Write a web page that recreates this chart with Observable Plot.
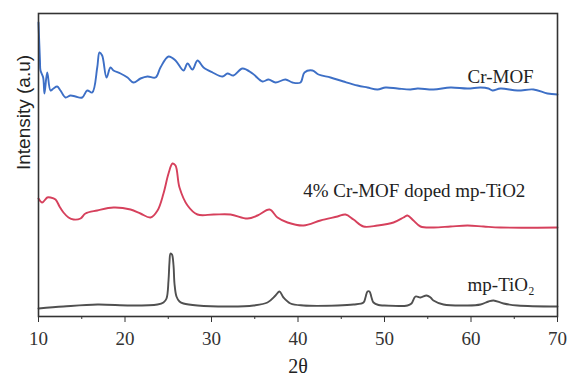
<!DOCTYPE html>
<html>
<head>
<meta charset="utf-8">
<script src="https://cdn.jsdelivr.net/npm/d3@7"></script>
<script src="https://cdn.jsdelivr.net/npm/@observablehq/plot@0.6"></script>
<style>
  html, body { margin: 0; padding: 0; background: #fff; }
  #chart { width: 568px; height: 385px; }
</style>
</head>
<body>
<div id="chart"></div>
<script>
// 2θ positions and intensities (a.u., offset stacked)
const crMofTheta = [10.00,10.17,10.23,10.54,10.69,11.01,11.39,11.73,12.16,12.54,13.12,13.70,14.28,15.05,15.63,16.21,16.79,17.05,17.36,17.86,18.32,18.67,19.48,20.29,20.98,21.79,22.60,23.53,24.10,25.03,25.84,26.76,27.23,27.80,28.38,29.08,30.12,31.27,31.85,32.54,33.58,34.74,35.90,36.59,37.40,38.55,39.36,40.29,40.75,41.68,42.37,43.76,45.26,46.88,48.03,49.19,50.12,51.50,53.01,53.82,55.66,57.63,59.60,61.10,62.02,62.49,63.41,65.38,67.23,68.84,70.00];
const crMofI     = [294,256,246,239,223,244,226,228,230,226,219,221,220,219,226,224,249,264,261,239,249,246,243,239,234,238,240,239,249,260,256,246,253,247,256,249,244,240,243,241,248,243,235,237,234,237,234,234,244,246,242,239,235,231,229,227,229,228,227,228,227,229,228,229,228,226,228,226,227,223,222];

const dopedTheta = [10.00,10.43,11.01,11.39,11.97,12.43,12.89,13.47,14.05,14.86,15.43,16.79,18.67,20.64,21.79,22.95,23.76,24.45,25.03,25.49,25.84,26.30,27.23,28.38,30.23,32.20,34.16,35.32,36.71,37.63,38.79,40.64,42.60,44.57,45.49,46.42,47.57,49.19,51.04,52.20,52.66,53.35,54.16,55.66,57.63,59.60,61.45,63.41,70.00];
const dopedI     = [118,114,119,119,117,110,104,99,97,98,103,106,109,107,103,99,106,123,143,153,151,129,111,102,102,102,98,101,107,99,94,91,96,100,102,97,90,91,94,99,101,96,90,89,90,91,90,89,89];

const tio2Theta = [10.00,12.89,16.82,20.64,23.76,24.45,24.80,25.03,25.14,25.26,25.43,25.61,25.72,25.95,26.30,26.76,28.38,32.20,34.86,36.47,37.40,37.86,38.32,39.13,40.64,44.57,46.42,47.57,47.80,48.03,48.27,48.50,48.73,49.31,49.88,52.66,53.12,53.58,54.16,54.86,55.32,55.66,56.82,59.60,61.10,62.02,62.60,63.76,65.38,70.00];
const tio2I     = [8,10,12,11,12,14,18,36,54,63,62,51,33,20,15,13,11,10,11,14,21,25,19,13,11,11,12,14,19,25,25,19,14,11.5,11,11,13,20,19,21,19,16,12,11,12,15,16,13,11,10];

const majorTicks = [10, 20, 30, 40, 50, 60, 70];
const minorTicks = [15, 25, 35, 45, 55, 65];

const seriesLabels = ["Cr-MOF", "4% Cr-MOF doped mp-TiO2", "mp-TiO₂"];
const labelTheta   = [59.6, 40.6, 59.6];
const labelI       = [240, 126, 32];

const xLabel = "2θ";
const yLabel = "Intensity (a.u)";

const toRows = (xs, ys) => xs.map((x, i) => ({x, y: ys[i]}));
const crMof = toRows(crMofTheta, crMofI);
const doped = toRows(dopedTheta, dopedI);
const tio2 = toRows(tio2Theta, tio2I);
const labels = seriesLabels.map((t, i) => ({t, x: labelTheta[i], y: labelI[i]}));

const serif = "'Times New Roman', 'Liberation Serif', serif";

const chart = Plot.plot({
  width: 568,
  height: 385,
  marginLeft: 38,
  marginRight: 11,
  marginTop: 13,
  marginBottom: 69,
  style: {fontFamily: serif, background: "#fff", color: "#333"},
  x: {domain: [10, 70]},
  y: {domain: [0, 303], axis: null},
  marks: [
    Plot.line(tio2, {x: "x", y: "y", stroke: "#505050", strokeWidth: 1.9, curve: "catmull-rom"}),
    Plot.line(doped, {x: "x", y: "y", stroke: "#d6405c", strokeWidth: 1.9, curve: "catmull-rom"}),
    Plot.line(crMof, {x: "x", y: "y", stroke: "#3d6fc6", strokeWidth: 1.9, curve: "catmull-rom"}),
    Plot.frame({stroke: "#333", strokeWidth: 1.6}),
    Plot.axisX({ticks: majorTicks, tickSize: 6, tickPadding: 9, fontSize: 19, label: null, stroke: "#333"}),
    Plot.axisX({ticks: minorTicks, tickSize: 3, text: null, label: null, stroke: "#333"}),
    Plot.text(labels, {x: "x", y: "y", text: "t", textAnchor: "start", fontSize: 19, fill: "#222", fontFamily: serif}),
    Plot.text([xLabel], {frameAnchor: "bottom", dy: 56, text: d => d, fontSize: 20, fill: "#222", fontFamily: serif}),
    Plot.text([yLabel], {frameAnchor: "left", dx: -15, dy: 5, rotate: -90, text: d => d, fontSize: 19, fill: "#222", fontFamily: "'Liberation Sans', Arial, sans-serif"})
  ]
});

document.getElementById("chart").appendChild(chart);
</script>
</body>
</html>
